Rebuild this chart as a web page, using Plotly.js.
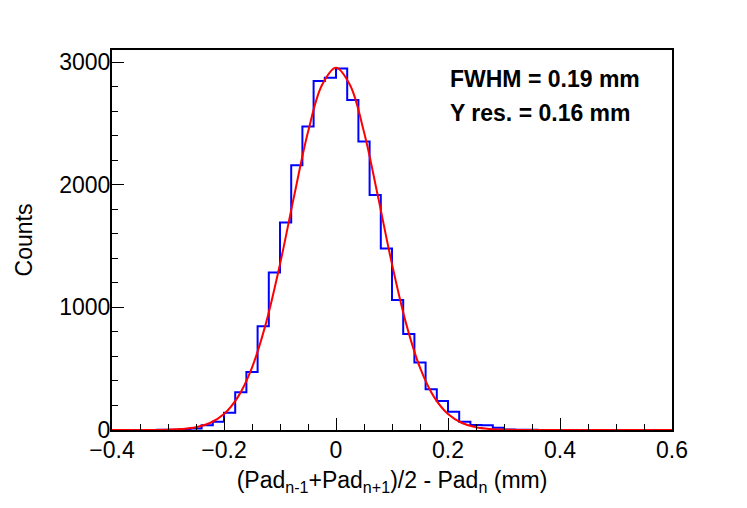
<!DOCTYPE html>
<html>
<head>
<meta charset="utf-8">
<script src="https://cdn.plot.ly/plotly-3.0.1.min.js"></script>
<style>
  html, body { margin: 0; padding: 0; background: white; }
  #plot { width: 747px; height: 508px; }
</style>
</head>
<body>
<div id="plot"></div>
<script>
// histogram: 50 bins of 0.02 mm from -0.4 to 0.6
const binStart = -0.4;
const binWidth = 0.02;
const counts = [
  0, 1, 0, 1, 2, 3, 6, 12, 38, 68,
  140, 307, 473, 846, 1284, 1693, 2160, 2475, 2847, 2874,
  2950, 2692, 2353, 1918, 1480, 1060, 784, 550, 332, 236,
  148, 68, 40, 38, 18, 4, 3, 2, 1, 1,
  0, 1, 0, 0, 1, 0, 0, 0, 0, 0
];

// gaussian fit curve
const fitX = [-0.4, -0.35, -0.3, -0.275, -0.25, -0.225, -0.2, -0.175, -0.15, -0.125, -0.1, -0.075, -0.05, -0.025,
  0, 0.025, 0.05, 0.075, 0.1, 0.125, 0.15, 0.175, 0.2, 0.225, 0.25, 0.275, 0.3, 0.35, 0.4, 0.5, 0.6];
const fitY = [0, 0, 3, 8, 22, 57, 130, 270, 509, 872, 1353, 1904, 2431, 2814,
  2955, 2814, 2431, 1904, 1353, 872, 509, 270, 130, 57, 22, 8, 3, 0, 0, 0, 0];

const fitLabels = ['FWHM = 0.19 mm', 'Y res. = 0.16 mm'];

const edges = counts.map((_, i) => binStart + i * binWidth);
edges.push(binStart + counts.length * binWidth);
const stepY = counts.concat([counts[counts.length - 1]]);

const histTrace = {
  x: edges,
  y: stepY,
  type: 'scatter',
  mode: 'lines',
  line: { color: '#0000ff', width: 2, shape: 'hv' },
  hoverinfo: 'skip'
};

const fitTrace = {
  x: fitX,
  y: fitY,
  type: 'scatter',
  mode: 'lines',
  line: { color: '#ff0000', width: 2, shape: 'spline', smoothing: 1 },
  hoverinfo: 'skip'
};

const font = { family: 'Liberation Sans, Arial, sans-serif', size: 23, color: 'black' };

const layout = {
  width: 747,
  height: 508,
  margin: { l: 112, r: 75, t: 50, b: 78 },
  paper_bgcolor: 'white',
  plot_bgcolor: 'white',
  showlegend: false,
  font: font,
  xaxis: {
    range: [-0.4, 0.6],
    dtick: 0.2,
    tick0: 0,
    ticks: 'inside',
    ticklen: 12,
    tickwidth: 1,
    tickcolor: 'black',
    minor: { dtick: 0.05, ticks: 'inside', ticklen: 6, tickcolor: 'black' },
    showgrid: false,
    zeroline: false,
    showline: true,
    linecolor: 'black',
    linewidth: 2,
    mirror: true,
    tickfont: font,
    ticklabelstandoff: -2,
    title: {
      text: '(Pad<sub>n-1</sub>+Pad<sub>n+1</sub>)/2 - Pad<sub>n</sub> (mm)',
      font: font,
      standoff: 10
    }
  },
  yaxis: {
    range: [0, 3100],
    dtick: 1000,
    ticks: 'inside',
    ticklen: 12,
    tickwidth: 1,
    tickcolor: 'black',
    minor: { dtick: 200, ticks: 'inside', ticklen: 6, tickcolor: 'black' },
    showgrid: false,
    zeroline: false,
    showline: true,
    linecolor: 'black',
    linewidth: 2,
    mirror: true,
    tickfont: font,
    ticklabelstandoff: -5,
    title: { text: 'Counts', font: font, standoff: 20 }
  },
  annotations: fitLabels.map((t, i) => ({
    xref: 'paper',
    yref: 'paper',
    x: 0.6,
    y: 0.924 - i * 0.09,
    xanchor: 'left',
    yanchor: 'middle',
    text: '<b>' + t + '</b>',
    showarrow: false,
    font: { family: 'Liberation Sans, Arial, sans-serif', size: 23, color: 'black' }
  }))
};

Plotly.newPlot('plot', [histTrace, fitTrace], layout, { displayModeBar: false, staticPlot: true });
</script>
</body>
</html>
